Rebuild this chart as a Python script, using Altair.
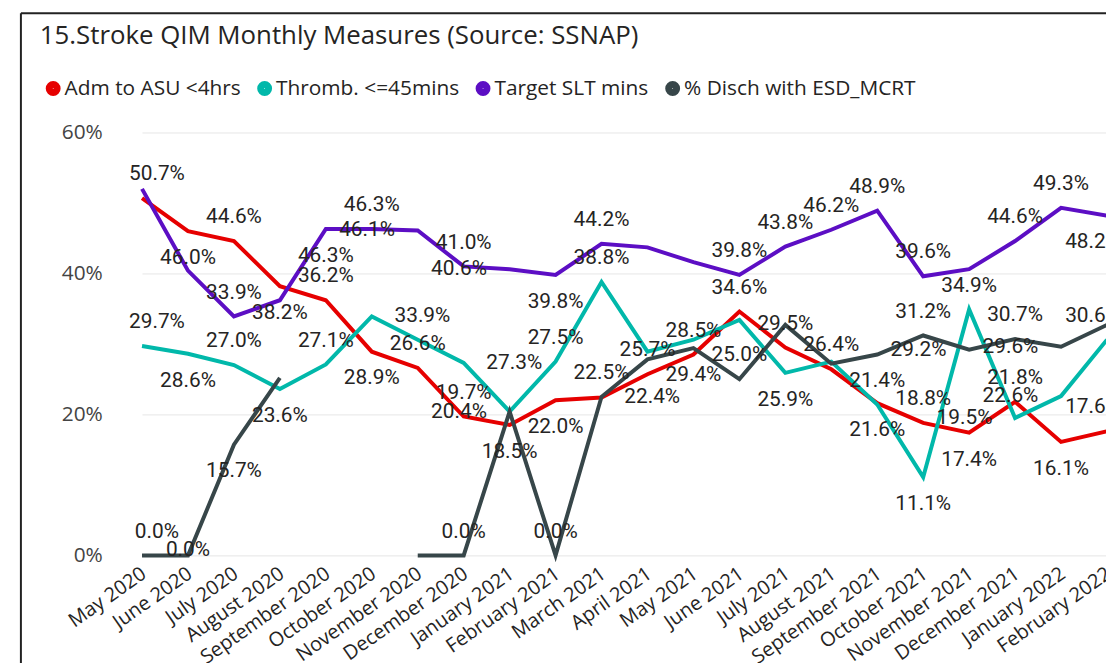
import altair as alt
import pandas as pd

title_text = "15.Stroke QIM Monthly Measures (Source: SSNAP)"

months = ["May 2020", "June 2020", "July 2020", "August 2020", "September 2020",
          "October 2020", "November 2020", "December 2020", "January 2021",
          "February 2021", "March 2021", "April 2021", "May 2021", "June 2021",
          "July 2021", "August 2021", "September 2021", "October 2021",
          "November 2021", "December 2021", "January 2022", "February 2022"]

series_names = ["Adm to ASU <4hrs", "Thromb. <=45mins", "Target SLT mins", "% Disch with ESD_MCRT"]
series_colors = ["#E60000", "#01B8AA", "#5C0EC4", "#374649"]

adm = [50.7, 46.0, 44.6, 38.2, 36.2, 28.9, 26.6, 19.7, 18.5, 22.0, 22.4, 25.7,
       28.5, 34.6, 29.5, 26.4, 21.6, 18.8, 17.4, 21.8, 16.1, 17.6]
thromb = [29.7, 28.6, 27.0, 23.6, 27.1, 33.9, 30.6, 27.3, 20.4, 27.5, 38.8, 28.9,
          30.6, 33.4, 25.9, 27.5, 21.4, 11.1, 34.9, 19.5, 22.6, 30.6]
slt = [52.0, 40.4, 33.9, 36.2, 46.3, 46.3, 46.1, 41.0, 40.6, 39.8, 44.2, 43.7,
       41.6, 39.8, 43.8, 46.2, 48.9, 39.6, 40.6, 44.6, 49.3, 48.2]
esd = [0.0, 0.0, 15.7, 25.2, None, None, 0.0, 0.0, 20.4, 0.0, 22.5, 27.8,
       29.4, 25.0, 32.7, 27.2, 28.5, 31.2, 29.2, 30.7, 29.6, 32.7]

# data-label placement as drawn in the reference: a=above b=below l=left r=right c=centre -=hidden
adm_lab = ["a", "b", "a", "b", "a", "b", "a", "a", "b", "b", "r", "a",
           "a", "a", "a", "a", "b", "a", "b", "a", "b", "a"]
thromb_lab = ["a", "b", "a", "b", "a", "r", "-", "r", "l", "a", "a", "-",
              "-", "-", "b", "-", "a", "b", "a", "l", "l", "a"]
slt_lab = ["-", "-", "a", "-", "b", "a", "l", "a", "l", "b", "a", "-",
           "-", "a", "a", "a", "a", "a", "-", "a", "a", "b"]
esd_lab = ["a", "c", "b", "-", "-", "-", "-", "a", "-", "a", "a", "-",
           "b", "a", "-", "-", "-", "a", "l", "a", "l", "-"]

all_values = [adm, thromb, slt, esd]
all_labels = [adm_lab, thromb_lab, slt_lab, esd_lab]

place_dx = {"a": 0, "b": 0, "l": -51, "r": 51, "c": 0}
place_dy = {"a": -24, "b": 27, "l": 0, "r": 0, "c": -5}

rows = []
for s_i, (name, vals, labs) in enumerate(zip(series_names, all_values, all_labels)):
    seg = 0
    for i, (m, v, p) in enumerate(zip(months, vals, labs)):
        if v is None:
            seg += 1
            continue
        dx = place_dx.get(p, 0)
        dy = place_dy.get(p, 0)
        if i == 0 and p in ("a", "b"):
            dx += 15
        if i == len(months) - 1 and p in ("a", "b"):
            dx -= 14
        rows.append({
            "month": m, "series": name, "order": s_i, "value": v,
            "label": f"{v:.1f}%", "place": p, "path": f"{s_i}-{seg}",
            "dx": dx, "dy": dy,
        })
df = pd.DataFrame(rows)

x_scale = alt.Scale(domain=months, range=[17, 989], padding=0)
y_scale = alt.Scale(domain=[0, 60], nice=False, zero=True)

x_enc = alt.X("month:N", scale=x_scale,
              axis=alt.Axis(title=None, labelAngle=-35, labelAlign="right",
                            labelBaseline="top", labelPadding=8, labelOffset=-4,
                            ticks=False, domain=False, grid=False,
                            labelFont="Open Sans", labelFontSize=20,
                            labelColor="#252423", labelOverlap=False,
                            labelLimit=300))
y_enc = alt.Y("value:Q", scale=y_scale,
              axis=alt.Axis(title=None, values=[0, 20, 40, 60],
                            labelExpr="datum.value + '%'", grid=True,
                            gridColor="#E6E6E6", gridWidth=1, domain=False,
                            ticks=False, labelPadding=23, labelFont="Open Sans",
                            labelFontSize=21, labelColor="#444444"))

lines = alt.Chart(df).mark_line(strokeWidth=4, strokeJoin="miter").encode(
    x=x_enc,
    y=y_enc,
    color=alt.Color("series:N",
                    scale=alt.Scale(domain=series_names, range=series_colors),
                    legend=alt.Legend(orient="none", legendX=-83, legendY=-55,
                                      direction="horizontal", columns=4,
                                      title=None, symbolType="circle",
                                      symbolSize=64, symbolStrokeWidth=7,
                                      labelFont="Open Sans", labelFontSize=21,
                                      labelColor="#252423", labelOffset=1,
                                      columnPadding=5, padding=0,
                                      labelLimit=400)),
    detail="path:N",
    order="order:Q",
)

label_layers = []
lab_df = df[df["place"] != "-"]
for (dx, dy) in sorted(set(zip(lab_df["dx"], lab_df["dy"]))):
    label_layers.append(
        alt.Chart(df).transform_filter(
            f"datum.place != '-' && datum.dx == {dx} && datum.dy == {dy}"
        ).mark_text(dx=int(dx), dy=int(dy), font="Roboto", fontSize=21,
                    color="#252423", align="center", baseline="middle").encode(
            x=alt.X("month:N", scale=x_scale),
            y=alt.Y("value:Q", scale=y_scale),
            text="label:N",
        )
    )

one = alt.Data(values=[{"t": title_text}])
title = alt.Chart(one).mark_text(align="left", baseline="alphabetic",
                                 font="Open Sans", fontSize=26,
                                 color="#252423").encode(
    x=alt.value(-86), y=alt.value(-89), text="t:N")

border_left = alt.Chart(one).mark_rule(color="#222222", strokeWidth=2).encode(
    x=alt.value(-105), y=alt.value(-120), y2=alt.value(620))
border_top = alt.Chart(one).mark_rule(color="#222222", strokeWidth=2).encode(
    x=alt.value(-105), x2=alt.value(1100), y=alt.value(-120))

chart = alt.layer(lines, *label_layers, title, border_left, border_top).properties(
    width=988, height=426,
    padding={"left": 118, "top": 123, "right": 0, "bottom": 106},
    autosize=alt.AutoSizeParams(type="none"),
    background="white",
).configure_view(stroke=None)

chart.save("out.html", embed_options={"renderer": "svg", "actions": False})
